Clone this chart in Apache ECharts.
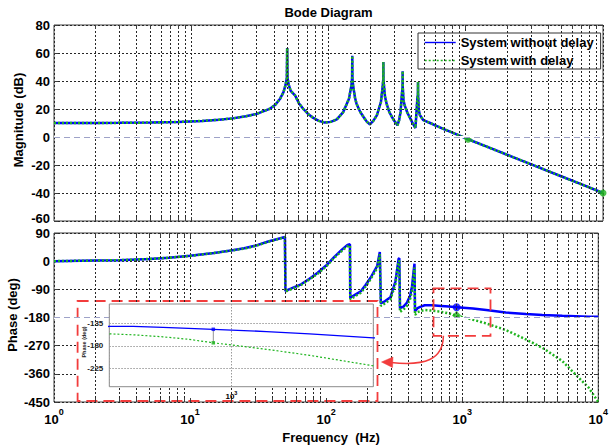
<!DOCTYPE html>
<html>
<head>
<meta charset="utf-8">
<script src="https://cdn.jsdelivr.net/npm/echarts@6/dist/echarts.min.js"></script>
<style>
  html, body { margin: 0; padding: 0; background: #fff; }
  #chart { width: 611px; height: 448px; }
</style>
</head>
<body>
<div id="chart"></div>
<script>
// Magnitude response (identical for both systems)
const magFreq = [1, 2, 3, 5, 8, 12, 16, 20, 25, 30, 37.6, 41, 44.4, 47, 48.6, 49.7, 50, 50.3, 51.4, 53, 57, 61, 65.6, 71, 77.5, 85, 94, 104, 115, 128, 141, 147, 148.6, 149, 149.4, 151, 156, 160, 170, 180, 190, 200, 212, 225, 241, 248, 250.6, 251, 251.4, 254, 258, 265, 277, 290, 304, 318, 327, 335, 342, 346.6, 347, 347.4, 352, 359, 375, 395, 412, 430, 436, 444, 448.6, 449, 449.4, 455, 464, 491, 550, 611, 700, 850, 1040, 1500, 2000, 3000, 5000, 7000, 10000];
const magDb = [10, 10, 10.1, 10.3, 10.8, 11.5, 12.4, 13.3, 14.8, 16.5, 20.3, 23, 27.4, 32, 37, 42, 63.5, 42, 37, 33, 29.8, 24, 20, 16.5, 13.6, 11.5, 10.3, 10.8, 12.6, 17.8, 27.4, 37, 42, 58, 42, 37, 28, 23.8, 18, 14.3, 11, 9, 11.5, 15.5, 25, 36, 41, 53.6, 41, 36, 29, 23.8, 18, 14.3, 11, 8.4, 12, 17.9, 29.8, 36, 47, 36, 26, 22.6, 17.5, 13.1, 9.5, 6.4, 15.5, 27.4, 31, 39.3, 31, 19, 15.5, 12, 10, 8, 5.5, 2, -1.6, -7.8, -12.7, -19.5, -28.2, -33.9, -40];

// Phase response
const phaseFreq = [1, 2, 3, 5, 7, 10, 15, 20, 25, 30, 37.5, 44, 49.8, 50.2, 55, 65.5, 75, 86.7, 100, 115, 130, 143.5, 149.6, 150.4, 165, 180, 195, 212, 237, 248, 252.5, 270, 297, 323, 341, 345, 349, 370, 392, 415, 428, 440, 446, 450, 470, 491, 530, 600, 700, 800, 910, 1200, 1500, 2090, 2940, 3890, 5440, 6800, 8500, 10000];
const phaseNoDelay = [0, 2, 3, 7, 11, 17, 26, 34, 41, 49, 63, 71, 77, -95, -88, -74, -57, -37, -14, 14, 36, 52, 54, -117, -106, -96, -76, -53, -16, 29, -135, -128, -115, -65, 8, 9, -150, -145, -133, -110, -80, -30, -8, -160, -150, -146, -141, -141, -143, -145, -147, -151.5, -156, -164, -169, -172, -174.5, -176, -177.5, -178];
const phaseDelay = [0, 2, 3, 7, 11, 17, 26, 34, 40, 48, 62, 70, 76, -97, -90, -76, -59, -40, -17, 11, 32, 48, 50, -122, -111, -101, -81, -58, -22, 22, -143, -135, -122, -73, 0, 1, -162, -155, -143, -120, -92, -42, -20, -172, -163, -160, -156, -158, -162, -167, -174, -187, -199, -220, -250, -277, -319, -362, -404, -450];

// Highlighted points
const magMarkFreq = [1040, 10000];
const magMarkDb = [-1.6, -40];
const phaseMarkFreq = 910;
const phaseMarkNoDelay = -147;
const phaseMarkDelay = -174;

// Axis ranges and tick values
const magRange = [-60, 80, 20];
const phaseRange = [-450, 90, 90];
const freqRange = [1, 10000];
const insetFreqRange = [530, 2090];
const insetPhaseRange = [-261.8, -96.4];
const insetPhaseTicks = [-135, -180, -225];
const minorSteps = [2, 3, 4, 5, 6, 7, 8, 9];
const seriesNames = ['System without delay', 'System with delay'];

const FONT = '"Liberation Sans", Arial, Helvetica, sans-serif';
const BLUE = '#0000ff';
const GREEN = '#1fb41f';
const RED = '#f23c3c';
const gridDot = { color: '#262626', width: 1, type: [2, 2] };
const insetDot = { color: '#9a9a9a', width: 1, type: [1.5, 1.5] };

const zip = (xs, ys) => xs.map((x, i) => [x, ys[i]]);

// Minor decade gridline positions
function minorFreqsIn(lo, hi) {
  const out = [];
  for (let d = 1; d <= 1e5; d *= 10) {
    for (const m of minorSteps) {
      const f = m * d;
      if (f > lo && f < hi) out.push(f);
    }
  }
  return out;
}
const mainMinor = minorFreqsIn(freqRange[0], freqRange[1]);
const mainTickFreqs = mainMinor.concat([10, 100, 1000]);
const insetMinor = minorFreqsIn(insetFreqRange[0], insetFreqRange[1]).filter(f => f !== 1000);

const chart = echarts.init(document.getElementById('chart'), null, { renderer: 'svg' });

const grids = [
  { left: 54, top: 25, width: 549, height: 196 },
  { left: 54, top: 233, width: 549, height: 169 },
  { left: 109.3, top: 304, width: 264, height: 82.7 }
];

function decadeLabel(size, supSize, lift, weight) {
  return {
    formatter: v => '{b|10}{s|' + Math.round(Math.log10(v)) + '}',
    rich: {
      b: { fontSize: size, fontWeight: weight, fontFamily: FONT, color: '#000', verticalAlign: 'bottom' },
      s: { fontSize: supSize, fontWeight: weight, fontFamily: FONT, color: '#000', verticalAlign: 'bottom', padding: [0, 0, lift, 0] }
    }
  };
}

function mainX(gridIndex, labels) {
  return {
    type: 'log', logBase: 10, gridIndex, min: freqRange[0], max: freqRange[1],
    axisLine: { show: false }, axisTick: { show: false },
    splitLine: { show: true, lineStyle: gridDot },
    axisLabel: labels ? Object.assign({ show: true, margin: 5 }, decadeLabel(13, 9, 10, 'bold')) : { show: false }
  };
}

function mainY(gridIndex, range, right) {
  return {
    type: 'value', gridIndex, min: range[0], max: range[1], interval: range[2],
    position: right ? 'right' : 'left',
    axisLine: { show: false },
    axisTick: { show: true, inside: true, length: 4, lineStyle: { color: '#3c3c3c' } },
    splitLine: { show: !right, lineStyle: gridDot },
    axisLabel: right ? { show: false } : {
      fontSize: 13, fontWeight: 'bold', color: '#000', fontFamily: FONT, margin: 4,
      // lowest magnitude label sits just above the phase panel's top label
      formatter: v => (v === magRange[0] && gridIndex === 0) ? '{lo|' + v + '}' : String(v),
      rich: { lo: { fontSize: 13, fontWeight: 'bold', fontFamily: FONT, color: '#000', padding: [0, 0, 5, 0] } }
    }
  };
}

// Short inward tick segments on top and bottom edges
function edgeTicks(range, height) {
  const len = 4 * (range[1] - range[0]) / height;
  const out = [];
  for (const f of mainTickFreqs) {
    out.push([{ coord: [f, range[1]] }, { coord: [f, range[1] - len] }]);
    out.push([{ coord: [f, range[0]] }, { coord: [f, range[0] + len] }]);
  }
  return out;
}

function decor(xi, yi, z, markLine) {
  return {
    type: 'line', xAxisIndex: xi, yAxisIndex: yi, data: [], z, silent: true,
    markLine: Object.assign({ silent: true, symbol: ['none', 'none'], label: { show: false }, animation: false }, markLine)
  };
}

function refLine(value) {
  return [
    { yAxis: value, lineStyle: { color: '#fff', width: 2, type: 'solid' } },
    { yAxis: value, lineStyle: { color: '#9ea2c8', width: 1.2, type: [6, 4] } }
  ];
}

function curve(name, xi, yi, data, z, solid, width) {
  return {
    name, type: 'line', xAxisIndex: xi, yAxisIndex: yi, data, z,
    symbol: 'none', showSymbol: false, clip: true, animation: false,
    lineStyle: solid
      ? { color: BLUE, width, type: 'solid' }
      : { color: GREEN, width, type: [2, 2], cap: 'butt' },
    itemStyle: { color: solid ? BLUE : GREEN }
  };
}

const boldText = (text, x, y, rot) => ({
  type: 'text', x, y, rotation: rot || 0, z: 10,
  style: { text, fontSize: 13, fontWeight: 'bold', fontFamily: FONT, fill: '#000', align: 'center', verticalAlign: 'middle' }
});

const option = {
  backgroundColor: '#fff',
  animation: false,
  textStyle: { fontFamily: FONT },
  grid: [
    Object.assign({ show: true, borderColor: '#3c3c3c', borderWidth: 1, backgroundColor: '#fff' }, grids[0]),
    Object.assign({ show: true, borderColor: '#3c3c3c', borderWidth: 1, backgroundColor: '#fff' }, grids[1]),
    Object.assign({ show: true, borderColor: '#8c8c8c', borderWidth: 1, backgroundColor: '#fff', z: 6 }, grids[2])
  ],
  xAxis: [
    mainX(0, false),
    mainX(1, true),
    {
      type: 'log', logBase: 10, gridIndex: 2, min: insetFreqRange[0], max: insetFreqRange[1], z: 7,
      axisLine: { show: false }, axisTick: { show: false },
      splitLine: { show: true, lineStyle: insetDot },
      axisLabel: Object.assign({ show: true, margin: 3, showMinLabel: false, showMaxLabel: false }, decadeLabel(8, 5.5, 5, 'bold'))
    }
  ],
  yAxis: [
    mainY(0, magRange, false),
    mainY(0, magRange, true),
    mainY(1, phaseRange, false),
    mainY(1, phaseRange, true),
    {
      type: 'value', gridIndex: 2, min: insetPhaseRange[0], max: insetPhaseRange[1], z: 7,
      axisLine: { show: false },
      axisTick: { show: false, customValues: insetPhaseTicks },
      splitLine: { show: true, lineStyle: insetDot },
      axisLabel: { customValues: insetPhaseTicks, fontSize: 8, fontWeight: 'bold', color: '#222', fontFamily: FONT, margin: 6 }
    }
  ],
  legend: {
    data: seriesNames,
    orient: 'vertical', left: 418, top: 33,
    padding: [3, 7, 2, 6], itemGap: 5, itemWidth: 31, itemHeight: 10,
    backgroundColor: '#fff', borderColor: '#333', borderWidth: 1,
    selectedMode: false,
    textStyle: { fontSize: 13, fontWeight: 'bold', color: '#000', fontFamily: FONT },
    itemStyle: { opacity: 0 },
    lineStyle: { width: 1.4 }
  },
  graphic: [
    boldText('Bode Diagram', 328.5, 12),
    boldText('Magnitude (dB)', 18, 120, Math.PI / 2),
    boldText('Phase (deg)', 12, 315, Math.PI / 2),
    boldText('Frequency  (Hz)', 331, 437),
    // zoom callout frame around the inset
    { type: 'rect', z: 5, shape: { x: 77.6, y: 301, width: 299.9, height: 100 }, style: { fill: '#fff', stroke: RED, lineWidth: 1.8, lineDash: [11, 6] } },
    // region being magnified
    { type: 'rect', z: 9, shape: { x: 433.5, y: 288.4, width: 57, height: 47.4 }, style: { fill: null, stroke: RED, lineWidth: 1.8, lineDash: [11, 6] } },
    { type: 'bezierCurve', z: 9, shape: { x1: 443.4, y1: 335.8, cpx1: 443, cpy1: 360, cpx2: 425, cpy2: 366, x2: 391, y2: 362.5 }, style: { fill: null, stroke: RED, lineWidth: 1.5 } },
    { type: 'polygon', z: 9, shape: { points: [[381.5, 362], [393, 357], [392.5, 367.5]] }, style: { fill: RED, stroke: RED, lineWidth: 0.5 } },
    { type: 'text', x: 84, y: 342, rotation: Math.PI / 2, z: 10, style: { text: 'Phase (deg)', fontSize: 5.5, fontWeight: 'bold', fontFamily: FONT, fill: '#222', align: 'center', verticalAlign: 'middle' } }
  ],
  series: [
    // magnitude panel: minor grid, edge ticks, 0 dB reference
    decor(0, 0, 1, { lineStyle: gridDot, data: mainMinor.map(f => ({ xAxis: f })) }),
    decor(0, 0, 1, { lineStyle: { color: '#3c3c3c', width: 1, type: 'solid' }, data: edgeTicks(magRange, grids[0].height) }),
    decor(0, 0, 1, { data: refLine(0) }),
    curve(seriesNames[0], 0, 0, zip(magFreq, magDb), 3, true, 2.5),
    curve(seriesNames[1], 0, 0, zip(magFreq, magDb), 3, false, 2.5),
    {
      type: 'scatter', xAxisIndex: 0, yAxisIndex: 0, z: 4, silent: true,
      data: zip(magMarkFreq, magMarkDb), symbol: 'circle', symbolSize: 7,
      itemStyle: { color: GREEN }
    },
    // phase panel
    decor(1, 2, 1, { lineStyle: gridDot, data: mainMinor.map(f => ({ xAxis: f })) }),
    decor(1, 2, 1, { lineStyle: { color: '#3c3c3c', width: 1, type: 'solid' }, data: edgeTicks(phaseRange, grids[1].height) }),
    decor(1, 2, 1, { data: refLine(-180) }),
    curve(seriesNames[0], 1, 2, zip(phaseFreq, phaseNoDelay), 3, true, 2.5),
    curve(seriesNames[1], 1, 2, zip(phaseFreq, phaseDelay), 3, false, 2.5),
    {
      type: 'scatter', xAxisIndex: 1, yAxisIndex: 2, z: 4, silent: true,
      data: [
        { value: [phaseMarkFreq, phaseMarkNoDelay], symbol: 'circle', symbolSize: 8, itemStyle: { color: BLUE } },
        { value: [phaseMarkFreq, phaseMarkDelay], symbol: 'diamond', symbolSize: 9, itemStyle: { color: GREEN } }
      ]
    },
    // inset: magnified phase near the crossover
    decor(2, 4, 7, { lineStyle: insetDot, data: insetMinor.map(f => ({ xAxis: f })) }),
    curve(seriesNames[0], 2, 4, zip(phaseFreq, phaseNoDelay), 8, true, 1.3),
    curve(seriesNames[1], 2, 4, zip(phaseFreq, phaseDelay), 8, false, 1.2),
    {
      type: 'line', xAxisIndex: 2, yAxisIndex: 4, z: 8, silent: true, symbol: 'none',
      data: [[phaseMarkFreq, phaseMarkNoDelay], [phaseMarkFreq, phaseMarkDelay]],
      lineStyle: { color: '#777', width: 0.8 }
    },
    {
      type: 'scatter', xAxisIndex: 2, yAxisIndex: 4, z: 9, silent: true,
      data: [
        { value: [phaseMarkFreq, phaseMarkNoDelay], itemStyle: { color: BLUE } },
        { value: [phaseMarkFreq, phaseMarkDelay], itemStyle: { color: GREEN } }
      ],
      symbol: 'rect', symbolSize: 3.5
    }
  ]
};

chart.setOption(option);
</script>
</body>
</html>
